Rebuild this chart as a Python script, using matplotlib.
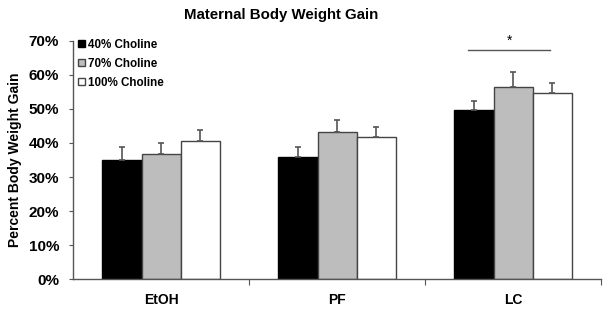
import matplotlib.pyplot as plt
import numpy as np

plt.rcParams['font.family'] = ['Liberation Sans', 'DejaVu Sans']

groups = ["EtOH", "PF", "LC"]
series = ["40% Choline", "70% Choline", "100% Choline"]
means = [
    [35.0, 35.9, 49.6],   # 40% Choline
    [36.8, 43.2, 56.5],   # 70% Choline
    [40.6, 41.7, 54.6],   # 100% Choline
]
errs = [
    [3.8, 2.8, 2.6],
    [3.1, 3.6, 4.3],
    [3.3, 3.1, 3.0],
]
yticks = [0, 10, 20, 30, 40, 50, 60, 70]
sig_y = 67.3

colors = ["#000000", "#bdbdbd", "#ffffff"]
edges = ["#000000", "#444444", "#444444"]

fig = plt.figure(figsize=(6.09, 3.11), dpi=100)
ax = fig.add_axes([0.12, 0.102, 0.867, 0.767])

x = np.arange(len(groups))
w = 0.222
for i in range(len(series)):
    ax.bar(x + (i - 1) * w, means[i], w, color=colors[i], edgecolor=edges[i],
           linewidth=1.0, label=series[i], zorder=2,
           yerr=[np.zeros(len(groups)), errs[i]],
           error_kw=dict(ecolor="#555555", elinewidth=1.2, capsize=2, capthick=1.2))

ax.set_xlim(-0.5, 2.5)
ax.set_ylim(0, 70)
ax.set_yticks(yticks)
ax.set_yticklabels([f"{t}%" for t in yticks], fontsize=11, fontweight="bold")
ax.set_xticks([0.5, 1.5, 2.5], minor=False)
ax.set_xticklabels([])
ax.set_xticks(x, minor=True)
ax.set_xticklabels(groups, minor=True, fontsize=10, fontweight="bold")
ax.tick_params(axis="x", which="minor", length=0, pad=10)
ax.tick_params(axis="x", which="major", length=4, direction="out", color="#555555")
ax.tick_params(axis="y", length=3, color="#555555", pad=7)
for s in ["top", "right"]:
    ax.spines[s].set_visible(False)
for s in ["left", "bottom"]:
    ax.spines[s].set_color("#555555")
    ax.spines[s].set_linewidth(1.0)

ax.set_ylabel("Percent Body Weight Gain", fontsize=10, fontweight="bold", labelpad=5)
ax.set_title("Maternal Body Weight Gain", fontsize=10.8, fontweight="bold", pad=16, x=0.394)

# significance marker over LC
ax.plot([1.744, 2.21], [sig_y, sig_y], color="#555555", linewidth=1.0)
ax.text(1.977, sig_y + 0.5, "*", ha="center", va="bottom", fontsize=10)

leg = ax.legend(loc="upper left", bbox_to_anchor=(0.115, 0.902), bbox_transform=fig.transFigure,
                frameon=False, handlelength=0.55, handleheight=0.55, handletextpad=0.25,
                labelspacing=0.62, borderpad=0.2,
                prop={"size": 8.4, "weight": "bold"})

fig.savefig("out.png", dpi=100)
